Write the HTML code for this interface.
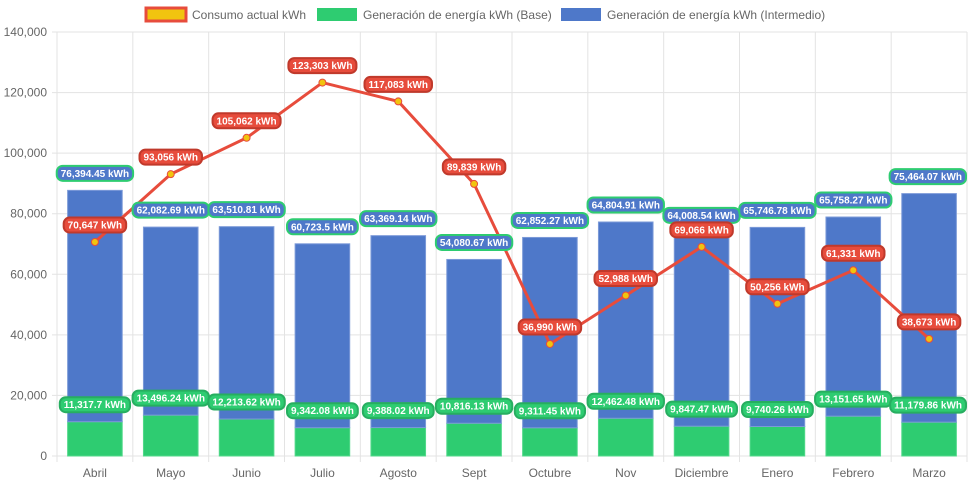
<!DOCTYPE html>
<html><head><meta charset="utf-8"><style>
body{margin:0;background:#fff;font-family:"Liberation Sans",Arial,sans-serif}
svg text{font-family:"Liberation Sans",Arial,sans-serif}
</style></head><body>
<svg id="c" width="971" height="485" xmlns="http://www.w3.org/2000/svg">
<g>
<g><rect x="146" y="8" width="40" height="13" fill="#f1c40f" stroke="#e74c3c" stroke-width="3"/><text x="192" y="19" font-size="12" fill="#666">Consumo actual kWh</text></g>
<g><rect x="317" y="8" width="40" height="13" fill="#2ecc71"/><text x="363" y="19" font-size="12" fill="#666">Generación de energía kWh (Base)</text></g>
<g><rect x="561" y="8" width="40" height="13" fill="#4e78c9"/><text x="607" y="19" font-size="12" fill="#666">Generación de energía kWh (Intermedio)</text></g>
</g>
<g id="grid"></g><g id="bars"></g><g id="line"></g><g id="labels"></g>
</svg>
<script>
const categories=["Abril","Mayo","Junio","Julio","Agosto","Sept","Octubre","Nov","Diciembre","Enero","Febrero","Marzo"];
const baseVals=[11317.7,13496.24,12213.62,9342.08,9388.02,10816.13,9311.45,12462.48,9847.47,9740.26,13151.65,11179.86];
const interVals=[76394.45,62082.69,63510.81,60723.5,63369.14,54080.67,62852.27,64804.91,64008.54,65746.78,65758.27,75464.07];
const consumo=[70647,93056,105062,123303,117083,89839,36990,52988,69066,50256,61331,38673];
const yTicks=[0,20000,40000,60000,80000,100000,120000,140000];
const NS="http://www.w3.org/2000/svg";
const L=57,R=967,T=32,B=456,YMAX=140000;
const cw=(R-L)/categories.length;
const y=v=>B-(v/YMAX)*(B-T);
const xc=i=>L+cw*(i+0.5);
function mk(tag,attrs,parent){const e=document.createElementNS(NS,tag);for(const k in attrs)e.setAttribute(k,attrs[k]);parent.appendChild(e);return e;}
const fmt=v=>v.toLocaleString('en-US',{maximumFractionDigits:2})+" kWh";
const grid=document.getElementById('grid');
yTicks.forEach(t=>{
  mk('line',{x1:L-5,x2:R,y1:y(t),y2:y(t),stroke:'#e3e3e3'},grid);
  const tx=mk('text',{x:L-10,y:y(t)+4,'text-anchor':'end','font-size':12,fill:'#666'},grid);
  tx.textContent=t.toLocaleString('en-US');
  
  
});
for(let i=0;i<=categories.length;i++){mk('line',{x1:L+cw*i,x2:L+cw*i,y1:T,y2:B+6,stroke:'#e3e3e3'},grid);}
categories.forEach((c,i)=>{
  const tx=mk('text',{x:xc(i),y:477,'text-anchor':'middle','font-size':12,fill:'#666'},grid);
  tx.textContent=c;
  
  
});
const bars=document.getElementById('bars');
const bw=cw*0.72;
categories.forEach((c,i)=>{
  const g=mk('rect',{x:xc(i)-bw/2,y:y(baseVals[i]),width:bw,height:B-y(baseVals[i]),fill:'#2ecc71',stroke:'#52d98a','stroke-width':1},bars);
  
  
  const top=baseVals[i]+interVals[i];
  const b=mk('rect',{x:xc(i)-bw/2,y:y(top),width:bw,height:y(baseVals[i])-y(top),fill:'#4e78c9',stroke:'#7c9ad8','stroke-width':1},bars);
  
  
});
const line=document.getElementById('line');
const pl=mk('polyline',{points:consumo.map((v,i)=>xc(i)+','+y(v)).join(' '),fill:'none',stroke:'#e74c3c','stroke-width':3},line);


consumo.forEach((v,i)=>{
  const p=mk('circle',{cx:xc(i),cy:y(v),r:3.5,fill:'#f1c40f',stroke:'#e74c3c','stroke-width':1},line);
  
  
});
const labels=document.getElementById('labels');
function label(cx,cy,txt,bg,bd,name){
  const g=mk('g',{},labels);
  
  
  const t=mk('text',{x:cx,y:cy+3.5,'text-anchor':'middle','font-size':10,'font-weight':'bold',fill:'#fff'},g);
  t.textContent=txt;
  const w=t.getComputedTextLength()+8;
  let lx=cx-w/2; if(lx+w>R-1){lx=R-1-w;t.setAttribute('x',lx+w/2);}
  const r=mk('rect',{x:lx,y:cy-7.5,width:w,height:15,rx:6,fill:bg,stroke:bd,'stroke-width':2},g);
  g.insertBefore(r,t);
}
categories.forEach((c,i)=>{
  label(xc(i),y(baseVals[i])-17,fmt(baseVals[i]),'#2ecc71','#27ae60','label-base');
  label(xc(i),y(baseVals[i]+interVals[i])-17,fmt(interVals[i]),'#4e78c9','#2ecc71','label-intermedio');
  label(xc(i),y(consumo[i])-17,fmt(consumo[i]),'#e74c3c','#c0392b','label-consumo');
});
</script>
</body></html>
